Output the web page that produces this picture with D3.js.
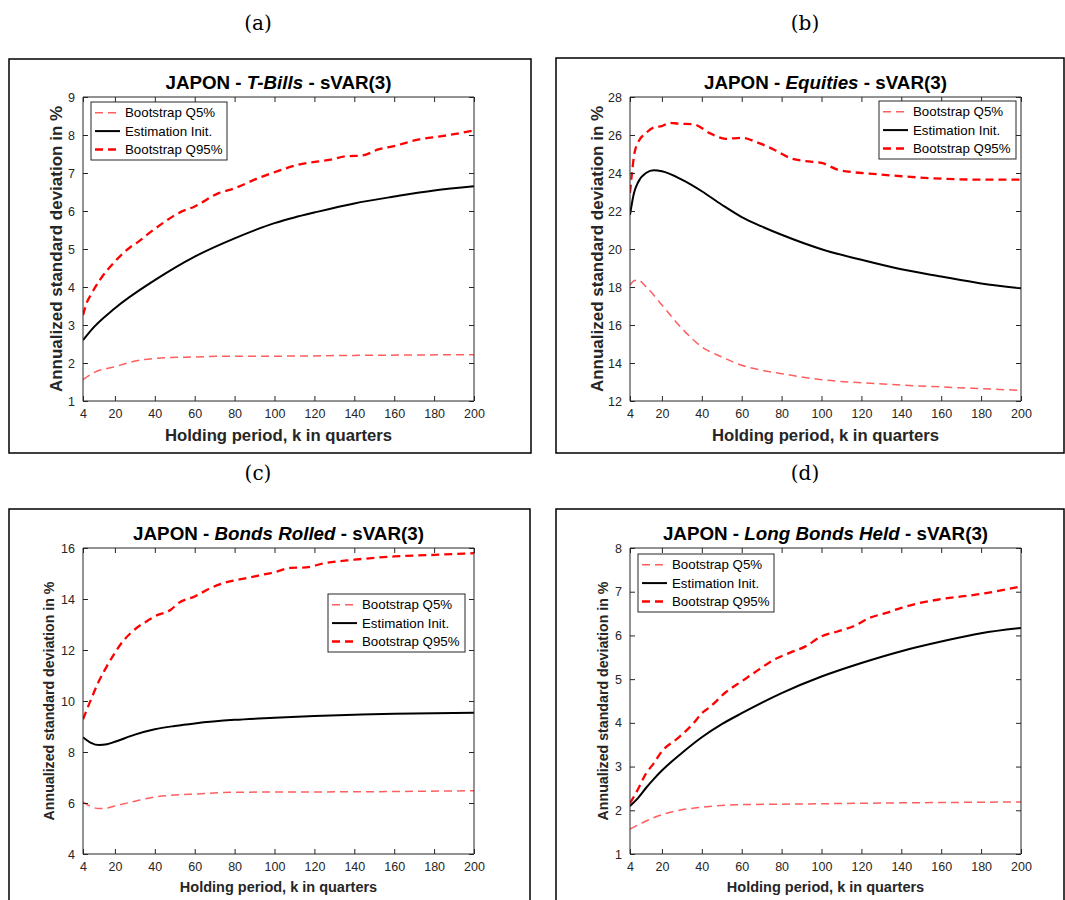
<!DOCTYPE html>
<html><head><meta charset="utf-8">
<script src="https://cdn.jsdelivr.net/npm/d3@7"></script>
<style>body{margin:0;background:#fff}svg{display:block}</style>
</head><body>
<svg id="c" width="1065" height="900"></svg>
<script>
// ---------- DATA ----------
const xTicks = [4,20,40,60,80,100,120,140,160,180,200];
const legendLabels = ["Bootstrap Q5%","Estimation Init.","Bootstrap Q95%"];
const panelLetters = ["(a)","(b)","(c)","(d)"];
const titleAssets = ["T-Bills","Equities","Bonds Rolled","Long Bonds Held"];
const yDomains = [[1,9],[12,28],[4,16],[1,8]];
const yTicksA = [1,2,3,4,5,6,7,8,9];
const yTicksB = [12,14,16,18,20,22,24,26,28];
const yTicksC = [4,6,8,10,12,14,16];
const yTicksD = [1,2,3,4,5,6,7,8];

// (a) T-Bills
const tbillsQ5 = [[4,1.56],[10,1.76],[20,1.9],[30,2.05],[40,2.12],[60,2.16],[80,2.18],[100,2.18],[140,2.2],[200,2.22]];
const tbillsEst = [[4,2.6],[8,2.86],[20,3.44],[40,4.18],[60,4.8],[80,5.28],[100,5.68],[110,5.83],[120,5.96],[140,6.2],[160,6.38],[180,6.54],[200,6.65]];
const tbillsQ95 = [[4,3.26],[6,3.6],[8,3.8],[12,4.15],[20,4.67],[28,5.06],[32,5.2],[36,5.37],[44,5.68],[52,5.95],[60,6.12],[72,6.47],[80,6.6],[92,6.87],[100,7.02],[112,7.22],[128,7.35],[136,7.44],[144,7.46],[152,7.62],[160,7.71],[172,7.88],[184,7.97],[200,8.12]];
// (b) Equities
const equitiesQ5 = [[4,18.1],[6,18.33],[8,18.37],[12,18.02],[20,17.05],[30,15.82],[40,14.85],[50,14.32],[60,13.88],[70,13.62],[80,13.44],[100,13.12],[120,12.96],[140,12.84],[160,12.74],[180,12.65],[200,12.56]];
const equitiesEst = [[4,21.8],[6,22.95],[8,23.5],[12,24.0],[16,24.14],[20,24.09],[30,23.65],[40,23.04],[50,22.33],[60,21.68],[70,21.19],[80,20.75],[100,19.99],[120,19.43],[140,18.93],[160,18.55],[180,18.19],[200,17.93]];
const equitiesQ95 = [[4,22.95],[5,24.0],[6,24.9],[8,25.6],[12,26.1],[16,26.4],[20,26.47],[24,26.64],[28,26.6],[36,26.56],[44,26.1],[52,25.8],[60,25.85],[68,25.6],[76,25.24],[84,24.8],[92,24.62],[100,24.53],[108,24.18],[116,24.04],[124,23.97],[140,23.83],[160,23.7],[180,23.65],[200,23.65]];
// (c) Bonds Rolled
const rolledQ5 = [[4,6.04],[8,5.86],[12,5.78],[16,5.8],[20,5.88],[30,6.07],[40,6.24],[50,6.31],[60,6.35],[80,6.42],[100,6.43],[140,6.44],[200,6.48]];
const rolledEst = [[4,8.58],[8,8.36],[12,8.27],[16,8.3],[20,8.4],[30,8.68],[40,8.89],[50,9.02],[60,9.12],[80,9.26],[100,9.34],[120,9.41],[140,9.46],[160,9.5],[180,9.52],[200,9.54]];
const rolledQ95 = [[4,9.28],[8,10.06],[12,10.78],[16,11.37],[20,11.89],[24,12.34],[28,12.67],[32,12.93],[36,13.13],[40,13.32],[48,13.58],[52,13.85],[60,14.1],[68,14.43],[76,14.66],[84,14.79],[92,14.92],[100,15.05],[108,15.22],[116,15.24],[124,15.39],[140,15.54],[160,15.67],[180,15.73],[200,15.8]];
// (d) Long Bonds Held
const heldQ5 = [[4,1.57],[10,1.71],[20,1.9],[30,2.01],[40,2.07],[60,2.13],[80,2.14],[100,2.15],[140,2.17],[200,2.19]];
const heldEst = [[4,2.1],[8,2.28],[12,2.51],[16,2.72],[20,2.91],[30,3.31],[40,3.67],[50,3.97],[60,4.22],[80,4.68],[100,5.06],[120,5.37],[140,5.64],[160,5.86],[180,6.05],[200,6.17]];
const heldQ95 = [[4,2.16],[8,2.48],[12,2.84],[16,3.08],[20,3.35],[28,3.65],[36,4.0],[40,4.22],[44,4.36],[52,4.7],[60,4.95],[68,5.2],[76,5.44],[84,5.6],[92,5.75],[100,5.98],[108,6.09],[116,6.21],[124,6.4],[132,6.51],[140,6.63],[148,6.73],[160,6.83],[180,6.95],[200,7.12]];

// ---------- LAYOUT ----------
const svg = d3.select("#c");
const FONT = "'Liberation Sans', Arial, Helvetica, sans-serif";
const AX = "#262626";

const panels = [
  {frame:[9,59,531,453], plot:[83,97,474,401], yTicks:yTicksA, series:[tbillsQ5,tbillsEst,tbillsQ95],
   legend:[91,102,227,160], titleY:89, xlabY:441, xlabSize:16.7, ylabX:62, ylabSize:17, letterX:258, letterY:30},
  {frame:[556,58,1064,453], plot:[630,97,1021,401], yTicks:yTicksB, series:[equitiesQ5,equitiesEst,equitiesQ95],
   legend:[879,101,1016,159], titleY:89, xlabY:441, xlabSize:16.7, ylabX:603, ylabSize:17, letterX:805, letterY:30},
  {frame:[9,509,530,905], plot:[83,548,474,854], yTicks:yTicksC, series:[rolledQ5,rolledEst,rolledQ95],
   legend:[328,594,465,652], titleY:540, xlabY:892, xlabSize:14.5, ylabX:54, ylabSize:14.2, letterX:258, letterY:480},
  {frame:[556,509,1064,905], plot:[630,548,1021,854], yTicks:yTicksD, series:[heldQ5,heldEst,heldQ95],
   legend:[638,554,774,612], titleY:540, xlabY:892, xlabSize:14.5, ylabX:608, ylabSize:14.2, letterX:805, letterY:480}
];

const styles = [
  {color:"#ff5f5f", width:1.5, dash:"8,5"},
  {color:"#000000", width:2, dash:null},
  {color:"#ff0000", width:2.3, dash:"8,5"}
];

panels.forEach((p,i)=>{
  const [fx0,fy0,fx1,fy1] = p.frame;
  const [px0,py0,px1,py1] = p.plot;
  svg.append("text").attr("x",p.letterX).attr("y",p.letterY)
    .attr("text-anchor","middle").attr("font-family","'DejaVu Serif', 'Liberation Serif', serif")
    .attr("font-size",20).attr("fill","#000").text(panelLetters[i]);
  svg.append("rect").attr("x",fx0).attr("y",fy0).attr("width",fx1-fx0).attr("height",fy1-fy0)
    .attr("fill","#fff").attr("stroke","#000").attr("stroke-width",1.5);

  const x = d3.scaleLinear().domain([4,200]).range([px0,px1]);
  const y = d3.scaleLinear().domain(yDomains[i]).range([py1,py0]);
  const g = svg.append("g");

  const cid = "clip"+i;
  g.append("clipPath").attr("id",cid).append("rect")
    .attr("x",px0).attr("y",py0).attr("width",px1-px0).attr("height",py1-py0);

  const line = d3.line().x(d=>x(d[0])).y(d=>y(d[1])).curve(d3.curveMonotoneX);
  const lg = g.append("g").attr("clip-path",`url(#${cid})`);
  p.series.forEach((s,j)=>{
    const st = styles[j];
    lg.append("path").datum(s).attr("d",line).attr("fill","none")
      .attr("stroke",st.color).attr("stroke-width",st.width)
      .attr("stroke-dasharray",st.dash).attr("stroke-linejoin","round");
  });

  const axB = d3.axisBottom(x).tickValues(xTicks).tickSize(-5).tickPadding(8).tickFormat(d3.format("d"));
  const axT = d3.axisTop(x).tickValues(xTicks).tickSize(-5).tickFormat("");
  const axL = d3.axisLeft(y).tickValues(p.yTicks).tickSize(-5).tickPadding(8).tickFormat(d3.format("d"));
  const axR = d3.axisRight(y).tickValues(p.yTicks).tickSize(-5).tickFormat("");
  const style = sel=>{
    sel.selectAll("path").attr("stroke",AX).attr("stroke-width",1);
    sel.selectAll("line").attr("stroke",AX).attr("stroke-width",1);
    sel.selectAll("text").attr("fill",AX).attr("font-family",FONT).attr("font-size",12.5);
  };
  g.append("g").attr("transform",`translate(0,${py1})`).call(axB).call(style).call(s=>s.selectAll(".domain").attr("d",`M${px0},0H${px1}`));
  g.append("g").attr("transform",`translate(0,${py0})`).call(axT).call(style).call(s=>s.selectAll(".domain").attr("d",`M${px0},0H${px1}`));
  g.append("g").attr("transform",`translate(${px0},0)`).call(axL).call(style).call(s=>s.selectAll(".domain").attr("d",`M0,${py0}V${py1}`));
  g.append("g").attr("transform",`translate(${px1},0)`).call(axR).call(style).call(s=>s.selectAll(".domain").attr("d",`M0,${py0}V${py1}`));

  const t = svg.append("text").attr("x",(px0+px1)/2).attr("y",p.titleY).attr("text-anchor","middle")
    .attr("font-family",FONT).attr("font-weight","bold").attr("font-size",18.8).attr("fill","#000");
  t.append("tspan").text("JAPON - ");
  t.append("tspan").attr("font-style","italic").text(titleAssets[i]);
  t.append("tspan").text(" - sVAR(3)");

  svg.append("text").attr("x",(px0+px1)/2).attr("y",p.xlabY).attr("text-anchor","middle")
    .attr("font-family",FONT).attr("font-weight","bold").attr("font-size",p.xlabSize).attr("fill",AX)
    .text("Holding period, k in quarters");
  svg.append("text").attr("transform",`translate(${p.ylabX},${(py0+py1)/2}) rotate(-90)`)
    .attr("text-anchor","middle").attr("font-family",FONT).attr("font-weight","bold")
    .attr("font-size",p.ylabSize).attr("fill",AX).text("Annualized standard deviation in %");

  const [lx0,ly0,lx1,ly1] = p.legend;
  svg.append("rect").attr("x",lx0).attr("y",ly0).attr("width",lx1-lx0).attr("height",ly1-ly0)
    .attr("fill","#fff").attr("stroke",AX).attr("stroke-width",1);
  const step = (ly1-ly0)/3.15;
  legendLabels.forEach((lab,j)=>{
    const yy = ly0 + step*(j+0.58);
    const st = styles[j];
    svg.append("line").attr("x1",lx0+4).attr("x2",lx0+29).attr("y1",yy).attr("y2",yy)
      .attr("stroke",st.color).attr("stroke-width",st.width).attr("stroke-dasharray",st.dash);
    svg.append("text").attr("x",lx0+34).attr("y",yy+4.6).attr("font-family",FONT)
      .attr("font-size",13.3).attr("fill","#000").text(lab);
  });
});
</script>
</body></html>
